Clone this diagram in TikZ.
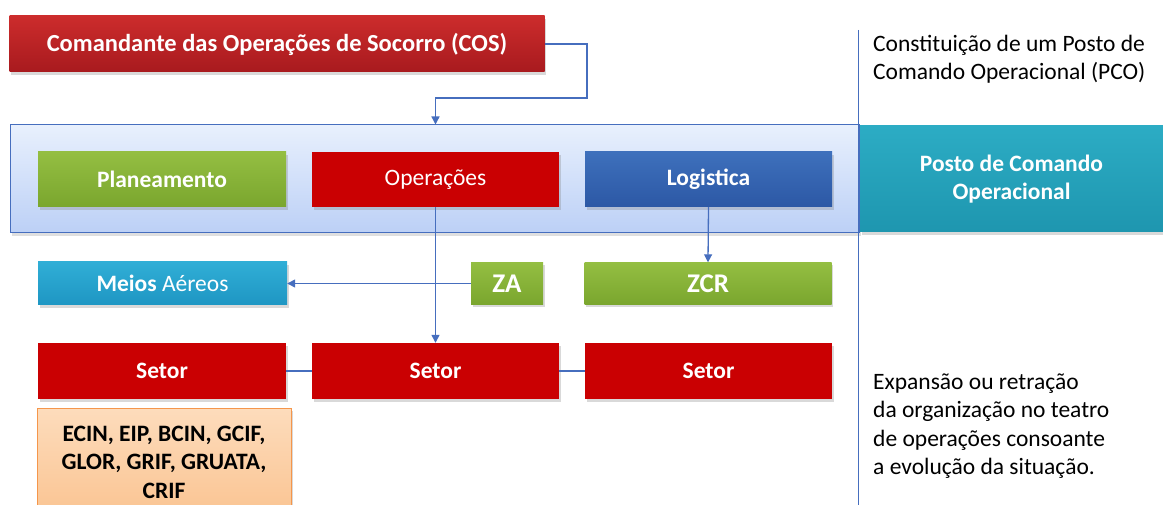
\documentclass[tikz,border=0pt]{standalone}
\usepackage{fontspec}
\setmainfont{Carlito}
\usetikzlibrary{arrows.meta,shadows}

\definecolor{cosred}{RGB}{204,44,44}
\definecolor{cosreddark}{RGB}{168,26,30}
\definecolor{opred}{RGB}{202,0,2}
\definecolor{plangreen}{RGB}{148,190,66}
\definecolor{plangreendark}{RGB}{122,166,46}
\definecolor{logblue}{RGB}{62,112,188}
\definecolor{logbluedark}{RGB}{44,88,165}
\definecolor{aerteal}{RGB}{48,174,214}
\definecolor{aertealdark}{RGB}{30,150,195}
\definecolor{pcoteal}{RGB}{44,172,196}
\definecolor{pcotealdark}{RGB}{30,150,175}
\definecolor{bandtop}{RGB}{232,240,253}
\definecolor{bandbot}{RGB}{188,208,246}
\definecolor{lineblue}{RGB}{70,110,190}
\definecolor{orangetop}{RGB}{253,220,188}
\definecolor{orangebot}{RGB}{250,196,146}
\definecolor{orangeline}{RGB}{245,150,75}

\tikzset{
  unit/.style={minimum height=55pt, inner sep=0pt, text=white,
    font=\bfseries\fontsize{23.5}{28.5}\selectfont,
    drop shadow={shadow xshift=1.5pt, shadow yshift=-3pt, opacity=0.3}},
  redunit/.style={unit, fill=opred},
  greenunit/.style={unit, top color=plangreen, bottom color=plangreendark},
  conn/.style={draw=lineblue, line width=1.3pt, -{Triangle[width=8pt,length=8pt]}},
  link/.style={draw=lineblue, line width=1.3pt},
  note/.style={anchor=west, inner sep=0pt, align=left,
    font=\fontsize{23.5}{28.5}\selectfont}
}

\begin{document}
\begin{tikzpicture}[x=1pt,y=-1pt]
\clip (0,0) rectangle (1163,505);

% comandante
\node[unit, top color=cosred, bottom color=cosreddark, minimum width=535pt, minimum height=56pt,
  font=\bfseries\fontsize{24.5}{28.5}\selectfont] (cos) at (277,44) {Comandante das Operações de Socorro (COS)};

% posto de comando
\node[top color=bandtop, bottom color=bandbot, draw=lineblue, line width=1pt,
  minimum width=849pt, minimum height=108pt,
  drop shadow={shadow xshift=1.5pt, shadow yshift=-3pt, opacity=0.25}] (band) at (435,179) {};
\node[greenunit, minimum width=248pt] (plan) at (162,179.5) {Planeamento};
\node[redunit, minimum width=247pt, font=\mdseries\fontsize{23.5}{28.5}\selectfont] (ops) at (435.5,179.5) {Operações};
\node[unit, top color=logblue, bottom color=logbluedark, minimum width=247pt] (log) at (708.5,179.5) {Logistica};

\coordinate (divtop) at (858.5,30);
\coordinate (divbot) at (858.5,505);
\draw[lineblue, line width=0.8pt] (divtop) -- (divbot);

\node[unit, top color=pcoteal, bottom color=pcotealdark, minimum width=303pt, minimum height=106pt, align=center] (pco) at (1011.5,179) {Posto de Comando\\Operacional};

% zonas
\node[unit, top color=aerteal, bottom color=aertealdark, minimum width=249pt, minimum height=43pt] (meios) at (162.5,283.5) {Meios {\mdseries Aéreos}};
\node[greenunit, minimum width=72pt, minimum height=42pt, font=\bfseries\fontsize{27}{30}\selectfont] (za) at (507,283.5) {ZA};
\node[greenunit, minimum width=247pt, minimum height=42pt, font=\bfseries\fontsize{27}{30}\selectfont] (zcr) at (708,283.5) {ZCR};

% setores
\node[redunit, minimum width=248pt, minimum height=56pt] (setA) at (162,371) {Setor};
\node[redunit, minimum width=247pt, minimum height=56pt] (setB) at (435.5,371) {Setor};
\node[redunit, minimum width=247pt, minimum height=56pt] (setC) at (708.5,371) {Setor};

\node[unit, text=black, top color=orangetop, bottom color=orangebot, draw=orangeline, line width=1pt,
  minimum width=254pt, minimum height=108pt, align=center] (forces) at (164,462) {ECIN, EIP, BCIN, GCIF,\\GLOR, GRIF, GRUATA,\\CRIF};

% ligacoes
\coordinate (elbow) at (587,98);
\draw[conn] (cos.east) -| (elbow) -| (ops |- band.north);
\draw[conn] (ops.south) -- (setB.north);
\draw[conn] (log.south) -- (zcr.north);
\draw[conn] (za.west) -- (meios.east);
\draw[link] (setA.east) -- (setB.west);
\draw[link] (setB.east) -- (setC.west);

% notas
\node[note] (pcoinfo) at (873,59) {Constituição de um Posto de\\Comando Operacional (PCO)};
\node[note] (expinfo) at (873,426) {Expansão ou retração\\da organização no teatro\\de operações consoante\\a evolução da situação.};
\end{tikzpicture}
\end{document}
